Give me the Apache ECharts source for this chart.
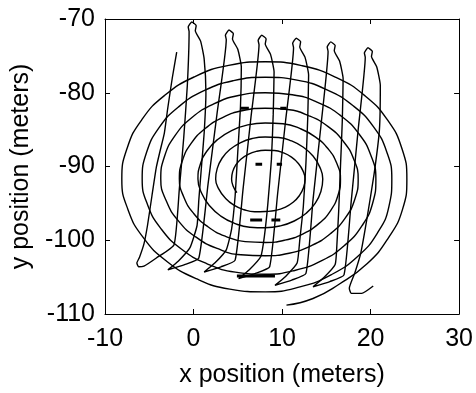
<!DOCTYPE html>
<html>
<head>
<meta charset="utf-8">
<script src="https://cdn.jsdelivr.net/npm/echarts@6/dist/echarts.min.js"></script>
<style>html,body{margin:0;padding:0;background:#fff;}#c{width:476px;height:393px;}</style>
</head>
<body>
<div id="c"></div>
<script>
// tick values
const xTicks = [-10, 0, 10, 20, 30];
const yTicks = [-110, -100, -90, -80, -70];

// spiral track (meters)
const spiralX = [10.5,13.5,16.4,19.6,22.0,23.6,
 24.1,23.54,21.93,19.38,16.07,12.22,8.1,3.97,0.1,-3.25,-5.84,-7.5,-8.1,-7.4,-5.67,-3.04,0.3,4.1,8.1,12.02,15.58,18.57,20.77,22.07,
 22.4,21.83,20.34,18.03,15.08,11.69,8.1,4.52,1.18,-1.69,-3.91,-5.31,-5.8,-5.17,-3.65,-1.38,1.48,4.72,8.1,11.42,14.48,17.08,19.04,20.24,
 20.6,20.04,18.69,16.66,14.08,11.16,8.1,5.07,2.23,-0.21,-2.09,-3.28,-3.7,-3.07,-1.71,0.25,2.67,5.35,8.1,10.8,13.32,15.49,17.17,18.23,
 18.6,18.1,16.93,15.21,13.05,10.62,8.1,5.61,3.28,1.28,-0.27,-1.25,-1.6,-1.09,0.02,1.63,3.62,5.83,8.1,10.32,12.38,14.15,15.49,16.32,
 16.6,16.17,15.2,13.79,12.05,10.11,8.1,6.13,4.3,2.73,1.52,0.76,0.5,0.92,1.81,3.08,4.63,6.35,8.1,9.8,11.38,12.73,13.76,14.39,
 14.6,14.25,13.5,12.41,11.08,9.61,8.1,6.63,5.27,4.1,3.22,2.68,2.5,2.88,3.6,4.56,5.7,6.91,8.1,9.24,10.32,11.25,11.97,12.43,
 12.6,12.35,11.82,11.07,10.15,9.14,8.1,7.09,6.17,5.38,4.78,4.42,4.3,4.48,4.9];
const spiralY = [-108.8,-107.9,-106.0,-103.2,-99.7,-95.85,
 -91.7,-87.56,-83.72,-80.42,-77.9,-76.33,-75.8,-76.29,-77.84,-80.35,-83.65,-87.52,-91.7,-95.85,-99.65,-102.84,-105.21,-106.62,-107.0,-106.32,-104.66,-102.17,-99.02,-95.44,
 -91.7,-88.02,-84.63,-81.77,-79.6,-78.29,-77.9,-78.36,-79.72,-81.91,-84.77,-88.11,-91.7,-95.25,-98.48,-101.18,-103.16,-104.32,-104.6,-104.1,-102.76,-100.68,-98.02,-94.95,
 -91.7,-88.5,-85.58,-83.14,-81.33,-80.27,-80.0,-80.38,-81.54,-83.39,-85.82,-88.65,-91.7,-94.69,-97.37,-99.55,-101.11,-101.97,-102.1,-101.76,-100.73,-99.09,-96.93,-94.41,
 -91.7,-89.02,-86.6,-84.59,-83.13,-82.28,-82.1,-82.41,-83.36,-84.88,-86.87,-89.19,-91.7,-94.16,-96.37,-98.17,-99.47,-100.19,-100.3,-99.99,-99.12,-97.75,-95.97,-93.9,
 -91.7,-89.54,-87.6,-86.01,-84.86,-84.21,-84.1,-84.36,-85.12,-86.33,-87.9,-89.73,-91.7,-93.62,-95.33,-96.72,-97.7,-98.23,-98.3,-98.06,-97.39,-96.33,-94.97,-93.39,
 -91.7,-90.05,-88.58,-87.39,-86.53,-86.06,-86.0,-86.21,-86.79,-87.7,-88.88,-90.25,-91.7,-93.1,-94.3,-95.24,-95.86,-96.14,-96.1,-95.96,-95.54,-94.85,-93.93,-92.86,
 -91.7,-90.56,-89.55,-88.73,-88.15,-87.84,-87.8,-87.95,-88.35,-88.98,-89.78,-90.71,-91.7,-92.67,-93.55];

// lawnmower track (meters): first leg, then six up/down sweeps
const mowX = [
 -1.9,-2.4,-2.9,-3.3,-3.8,-4.2,-4.7,-5.2,-5.6,-6.1,-6.4,-6.2,-5.6,-4.2,-2.2,
 -1.6,-1.1,-0.7,-0.5,-0.6,-0.2,0.3,0.2,0.8,1.2,1.4,1.2,0.9,0.6,0.4,-0.4,-1.7,-2.9,
 -1.0,0.6,1.63,2.67,3.7,3.6,4.0,4.5,4.4,5.0,5.4,5.3,5.0,4.7,4.3,3.7,2.4,1.2,
 3.1,4.7,5.6,6.5,7.4,7.3,7.7,8.2,8.1,8.7,9.1,9.0,8.8,8.4,8.0,7.6,6.3,5.1,
 7.0,8.6,9.5,10.4,11.3,11.2,11.6,12.1,12.0,12.6,13.0,12.9,12.7,12.4,12.0,11.7,10.4,9.2,
 11.1,12.7,13.5,14.4,15.2,15.1,15.5,16.0,15.9,16.5,16.9,16.8,16.6,16.4,16.2,16.0,14.7,13.5,
 15.4,17.0,17.8,18.6,19.4,19.3,19.7,20.2,20.1,20.7,21.1,21.0,20.4,19.6,18.9,18.2,17.6,17.8,19.0,20.3];
const mowY = [
 -74.5,-78,-82,-85.5,-88,-90.1,-94,-98,-100.5,-102.3,-103.1,-103.6,-103.5,-102.4,-100.6,
 -93,-86,-79,-71.7,-71.1,-70.4,-70.9,-71.6,-73.0,-75.4,-80,-85.5,-90,-94.5,-98,-101.0,-102.8,-104.0,
 -103.3,-102.4,-92.5,-82.7,-72.8,-72.2,-71.5,-72.0,-72.7,-74.1,-76.5,-82,-88,-94,-98.5,-101.3,-103.1,-104.3,
 -103.6,-102.7,-93.0,-83.2,-73.5,-72.9,-72.2,-72.7,-73.4,-74.8,-77.2,-83,-89,-95,-99.5,-102.2,-104.0,-105.2,
 -104.5,-103.6,-93.7,-83.8,-73.9,-73.3,-72.6,-73.1,-73.8,-75.2,-77.6,-83.5,-89.5,-95.5,-100,-103.1,-104.9,-106.1,
 -105.4,-104.5,-94.5,-84.4,-74.4,-73.8,-73.1,-73.6,-74.3,-75.7,-78.1,-84,-90,-96,-100.5,-103.3,-105.1,-106.3,
 -105.6,-104.7,-94.9,-85.0,-75.2,-74.6,-73.9,-74.4,-75.1,-76.5,-79.0,-85,-91,-97,-101.7,-104.5,-106.5,-107.2,-107.2,-106.2];

// short overlapping (thick) stretches
const dashX0 = [5.35, 9.8, 7.0, 9.4, 6.4, 8.8, 4.9];
const dashX1 = [6.25, 10.5, 7.75, 10.0, 7.75, 9.8, 9.2];
const dashY  = [-82.1, -82.1, -89.7, -89.7, -97.25, -97.25, -104.85];

const zip = (a, b) => a.map((v, i) => [v, b[i]]);
const FONT = 'Liberation Sans';
const lineBase = {type: 'line', showSymbol: false, symbol: 'none', xAxisIndex: 0, yAxisIndex: 0,
  lineStyle: {color: '#000', width: 1.4}, animation: false, silent: true};

const series = [
  Object.assign({}, lineBase, {data: zip(spiralX, spiralY), smooth: 0.5}),
  Object.assign({}, lineBase, {data: zip(mowX, mowY), smooth: 0.15})
];
dashY.forEach((y, i) => {
  series.push(Object.assign({}, lineBase, {data: [[dashX0[i], y], [dashX1[i], y]], lineStyle: {color: '#000', width: 3}}));
});

const axisCommon = {
  type: 'value', splitLine: {show: false},
  axisLine: {show: true, onZero: false, lineStyle: {color: '#000', width: 1}},
  axisTick: {show: true, inside: true, length: 5, lineStyle: {color: '#000', width: 1}}
};

const chart = echarts.init(document.getElementById('c'), null, {renderer: 'canvas'});
chart.setOption({
  backgroundColor: '#fff',
  animation: false,
  grid: {left: 105, top: 19, right: 14, bottom: 79, containLabel: false},
  xAxis: [
    Object.assign({}, axisCommon, {position: 'bottom', min: xTicks[0], max: xTicks[xTicks.length - 1], interval: 10,
      axisLabel: {color: '#000', fontSize: 25, fontFamily: FONT, margin: 13},
      name: 'x position (meters)', nameLocation: 'middle', nameGap: 49,
      nameTextStyle: {color: '#000', fontSize: 25, fontFamily: FONT}}),
    Object.assign({}, axisCommon, {position: 'top', min: xTicks[0], max: xTicks[xTicks.length - 1], interval: 10,
      axisLabel: {show: false}})
  ],
  yAxis: [
    Object.assign({}, axisCommon, {position: 'left', min: yTicks[0], max: yTicks[yTicks.length - 1], interval: 10,
      axisLabel: {color: '#000', fontSize: 25, fontFamily: FONT, margin: 10},
      name: 'y position (meters)', nameLocation: 'middle', nameGap: 66,
      nameTextStyle: {color: '#000', fontSize: 25, fontFamily: FONT}}),
    Object.assign({}, axisCommon, {position: 'right', min: yTicks[0], max: yTicks[yTicks.length - 1], interval: 10,
      axisLabel: {show: false}})
  ],
  series: series
});
</script>
</body>
</html>
